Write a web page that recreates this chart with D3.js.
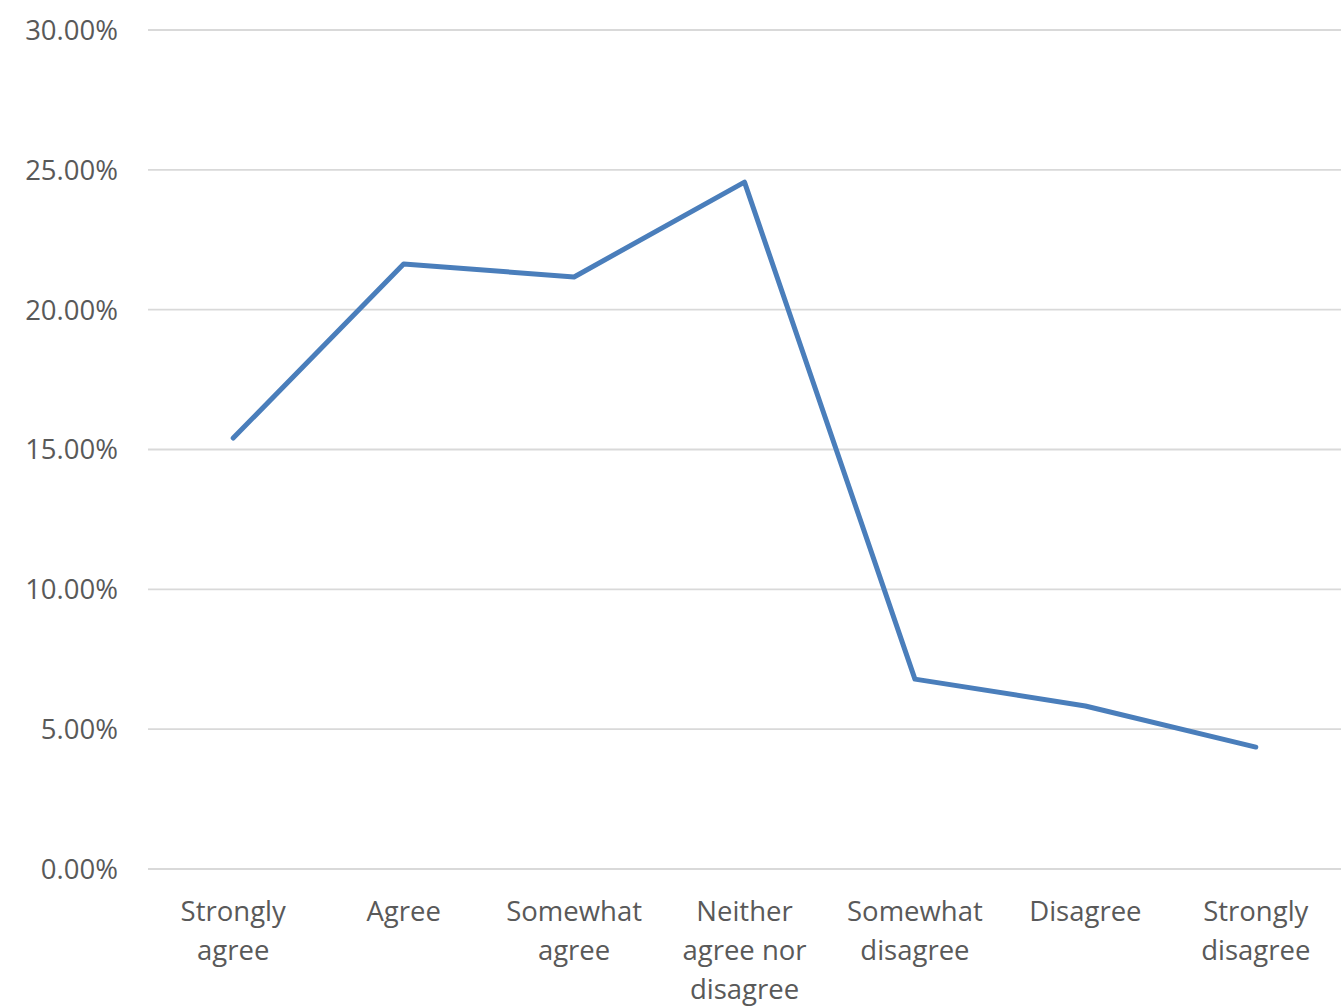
<!DOCTYPE html>
<html><head><meta charset="utf-8">
<script src="https://cdn.jsdelivr.net/npm/d3@7/dist/d3.min.js"></script>
<style>body{margin:0;background:#fff;} svg{display:block;}</style>
</head><body>
<svg id="chart" width="1341" height="1008"></svg>
<script>
const categories = ["Strongly agree","Agree","Somewhat agree","Neither agree nor disagree","Somewhat disagree","Disagree","Strongly disagree"];
const categoryLines = [["Strongly","agree"],["Agree"],["Somewhat","agree"],["Neither","agree nor","disagree"],["Somewhat","disagree"],["Disagree"],["Strongly","disagree"]];
const values = [0.1541, 0.2163, 0.2117, 0.2456, 0.0679, 0.0583, 0.0436];
const yTicks = [0, 0.05, 0.10, 0.15, 0.20, 0.25, 0.30];

(function(){
const svg = d3.select("#chart");
const mLeft = 148, mRight = 1341, mTop = 30, mBottom = 869;
const font = "'Open Sans', 'Liberation Sans', sans-serif";
const textColor = "#595959";

const x = d3.scaleBand().domain(categories).range([mLeft, mRight]);
const y = d3.scaleLinear().domain([0, 0.30]).range([mBottom, mTop]);

svg.append("g").selectAll("line").data(yTicks).join("line")
  .attr("x1", mLeft).attr("x2", mRight)
  .attr("y1", d => y(d)).attr("y2", d => y(d))
  .attr("stroke", "#d9d9d9").attr("stroke-width", 1.8);

svg.append("g").selectAll("text").data(yTicks).join("text")
  .attr("x", 118).attr("y", d => y(d))
  .attr("dy", "0.36em")
  .attr("text-anchor", "end")
  .attr("font-family", font).attr("font-size", 27.5)
  .attr("fill", textColor)
  .text(d => d3.format(".2%")(d));

const xl = svg.append("g").selectAll("text").data(categories).join("text")
  .attr("text-anchor", "middle")
  .attr("font-family", font).attr("font-size", 27.5)
  .attr("fill", textColor)
  .attr("transform", d => `translate(${x(d) + x.bandwidth()/2},0)`);
xl.each(function(d, i) {
  const t = d3.select(this);
  categoryLines[i].forEach((ln, j) => {
    t.append("tspan").attr("x", 0).attr("y", 921 + j * 39).text(ln);
  });
});

const line = d3.line()
  .x((d, i) => x(categories[i]) + x.bandwidth()/2)
  .y(d => y(d));
svg.append("path").datum(values)
  .attr("d", line)
  .attr("fill", "none")
  .attr("stroke", "#4a7ebb")
  .attr("stroke-width", 5)
  .attr("stroke-linejoin", "round")
  .attr("stroke-linecap", "round");
})();
</script>
</body></html>
